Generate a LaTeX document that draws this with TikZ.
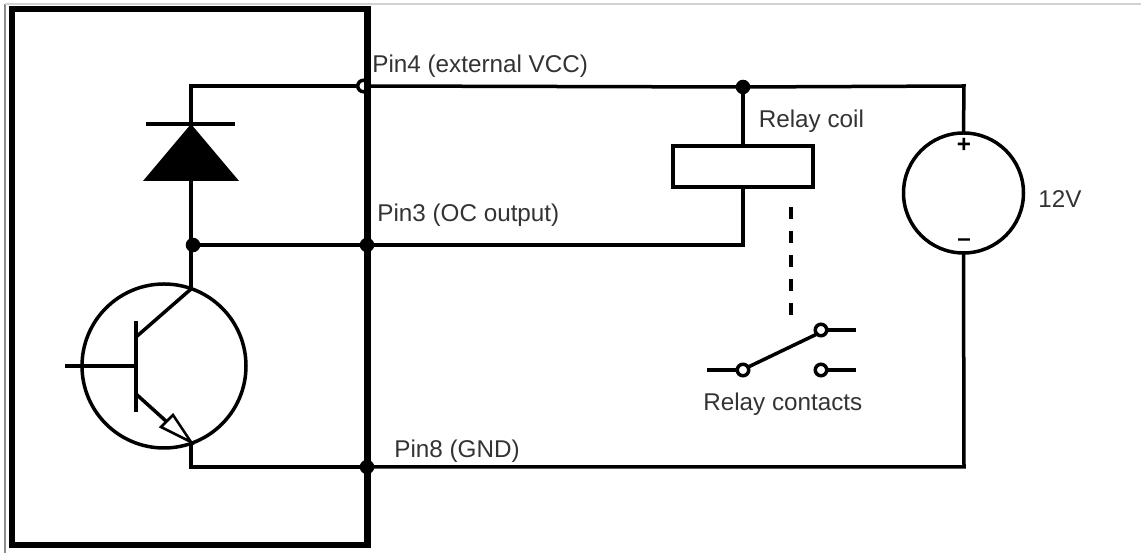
\documentclass[tikz,border=0pt]{standalone}
\usepackage{fontspec}
\setmainfont{Liberation Sans}
\tikzset{
  wire/.style={line width=0.07cm},
  dot/.style={circle,fill=black,draw=black,line width=0.03cm,inner sep=0,minimum size=0.26cm,outer sep=0},
  opendot/.style={circle,fill=white,draw=black,line width=0.07cm,inner sep=0,minimum size=0.23cm,outer sep=0},
  lbl/.style={anchor=base west,inner sep=0,text=black!80,font=\fontsize{13.8}{16}\selectfont},
  sign/.style={inner sep=0,font=\fontsize{13.8}{16}\selectfont\bfseries}
}
\begin{document}
\begin{tikzpicture}
  \useasboundingbox (0,0) rectangle (22.82,11.06);
  % Page edge lines
  \draw [line width=0.03cm,black!45] (0.10,0) -- (0.10,10.98);%
  \draw [line width=0.03cm,black!18] (0.10,10.98) -- (22.82,10.98);%

  % Marking pin behind the chip outline
  \node [opendot] (pinfour) at (7.27,9.34) {};%

  % Drawing chip outline
  \draw [line width=0.125cm] (0.24,0.16) rectangle (7.35,10.88);%

  % Marking pins and junctions
  \node [dot] (pinthree) at (7.34,6.16) {};%
  \node [dot] (pineight) at (7.34,1.72) {};%
  \node [dot] (jcath) at (3.86,6.16) {};%
  \node [dot] (jcoil) at (14.86,9.32) {};%

  % Marking corners
  \coordinate (tl) at (3.82,9.34);%
  \coordinate (tr) at (19.28,9.34);%
  \coordinate (br) at (19.28,1.72);%
  \coordinate (bl) at (3.82,1.72);%
  \coordinate (coilbot) at (14.86,6.16);%
  \coordinate (anode) at (3.82,7.44);%
  \coordinate (cathode) at (3.82,8.58);%
  \coordinate (coll) at (3.82,5.28);%
  \coordinate (emit) at (3.82,2.22);%

  % Drawing diode
  \draw [wire] (2.92,8.58) -- (4.70,8.58);%
  \fill (cathode) -- (4.78,7.44) -- (2.86,7.44) -- cycle;%

  % Drawing transistor
  \node [circle,draw,line width=0.07cm,inner sep=0,outer sep=0,minimum size=3.28cm] (qbody) at (3.28,3.74) {};%
  \coordinate (qbase) at (2.72,3.74);%
  \coordinate (qcin) at (2.72,4.32);%
  \coordinate (qein) at (2.72,3.18);%
  \coordinate (qin) at (1.30,3.74);%
  \draw [wire] (2.72,4.64) -- (2.72,2.82);%
  \draw [wire] (qin) -- (qbase);%
  \draw [wire] (qcin) -- (coll);%
  \draw [wire] (qein) -- (3.34,2.62);%
  \draw [line width=0.05cm,fill=white,line join=miter] (emit) -- (3.46,2.76) -- (3.22,2.52) -- cycle;%

  % Drawing relay coil
  \node [rectangle,draw,line width=0.07cm,inner sep=0,outer sep=0,minimum width=2.80cm,minimum height=0.82cm] (coil) at (14.86,7.73) {};%

  % Drawing supply
  \node [circle,draw,line width=0.07cm,inner sep=0,outer sep=0,minimum size=2.40cm] (vsrc) at (19.27,7.20) {};%
  \node [sign] (vplus) at (19.28,8.16) {+};%
  \node [sign] (vminus) at (19.28,6.20) {–};%

  % Drawing wires
  \draw [wire] (pinfour) -- (tl) -- (cathode);%
  \draw [wire] (pinfour) -- (jcoil);%
  \draw [wire] (jcoil) -- (tr) -- (vsrc.north);%
  \draw [wire] (jcoil) -- (coil.north);%
  \draw [wire] (coil.south) -- (coilbot) -- (pinthree);%
  \draw [wire] (pinthree) -- (jcath);%
  \draw [wire] (anode) -- (3.82,6.16) -- (coll);%
  \draw [wire] (emit) -- (bl) -- (pineight);%
  \draw [wire] (pineight) -- (br) -- (vsrc.south);%

  % Drawing relay link
  \draw [line width=0.07cm,dash pattern=on 0.24cm off 0.24cm] (15.82,6.92) -- (15.82,4.76);%

  % Drawing relay contacts
  \node [opendot] (cmid) at (14.86,3.66) {};%
  \node [opendot] (cup) at (16.42,4.46) {};%
  \node [opendot] (cdown) at (16.42,3.66) {};%
  \coordinate (cmidin) at (14.14,3.66);%
  \coordinate (cupout) at (17.12,4.46);%
  \coordinate (cdownout) at (17.12,3.66);%
  \draw [wire] (cmidin) -- (cmid);%
  \draw [wire] (cmid.30) -- (cup.south west);%
  \draw [wire] (cup) -- (cupout);%
  \draw [wire] (cdown) -- (cdownout);%

  % Marking labels
  \node [lbl] (lbfour) at (7.44,9.60) {Pin4 (external VCC)};%
  \node [lbl] (lbthree) at (7.54,6.62) {Pin3 (OC output)};%
  \node [lbl] (lbeight) at (7.88,1.90) {Pin8 (GND)};%
  \node [lbl] (lbcoil) at (15.17,8.50) {Relay coil};%
  \node [lbl] (lbcont) at (14.06,2.84) {Relay contacts};%
  \node [lbl] (lbvolt) at (20.76,6.90) {12V};%
\end{tikzpicture}
\end{document}
